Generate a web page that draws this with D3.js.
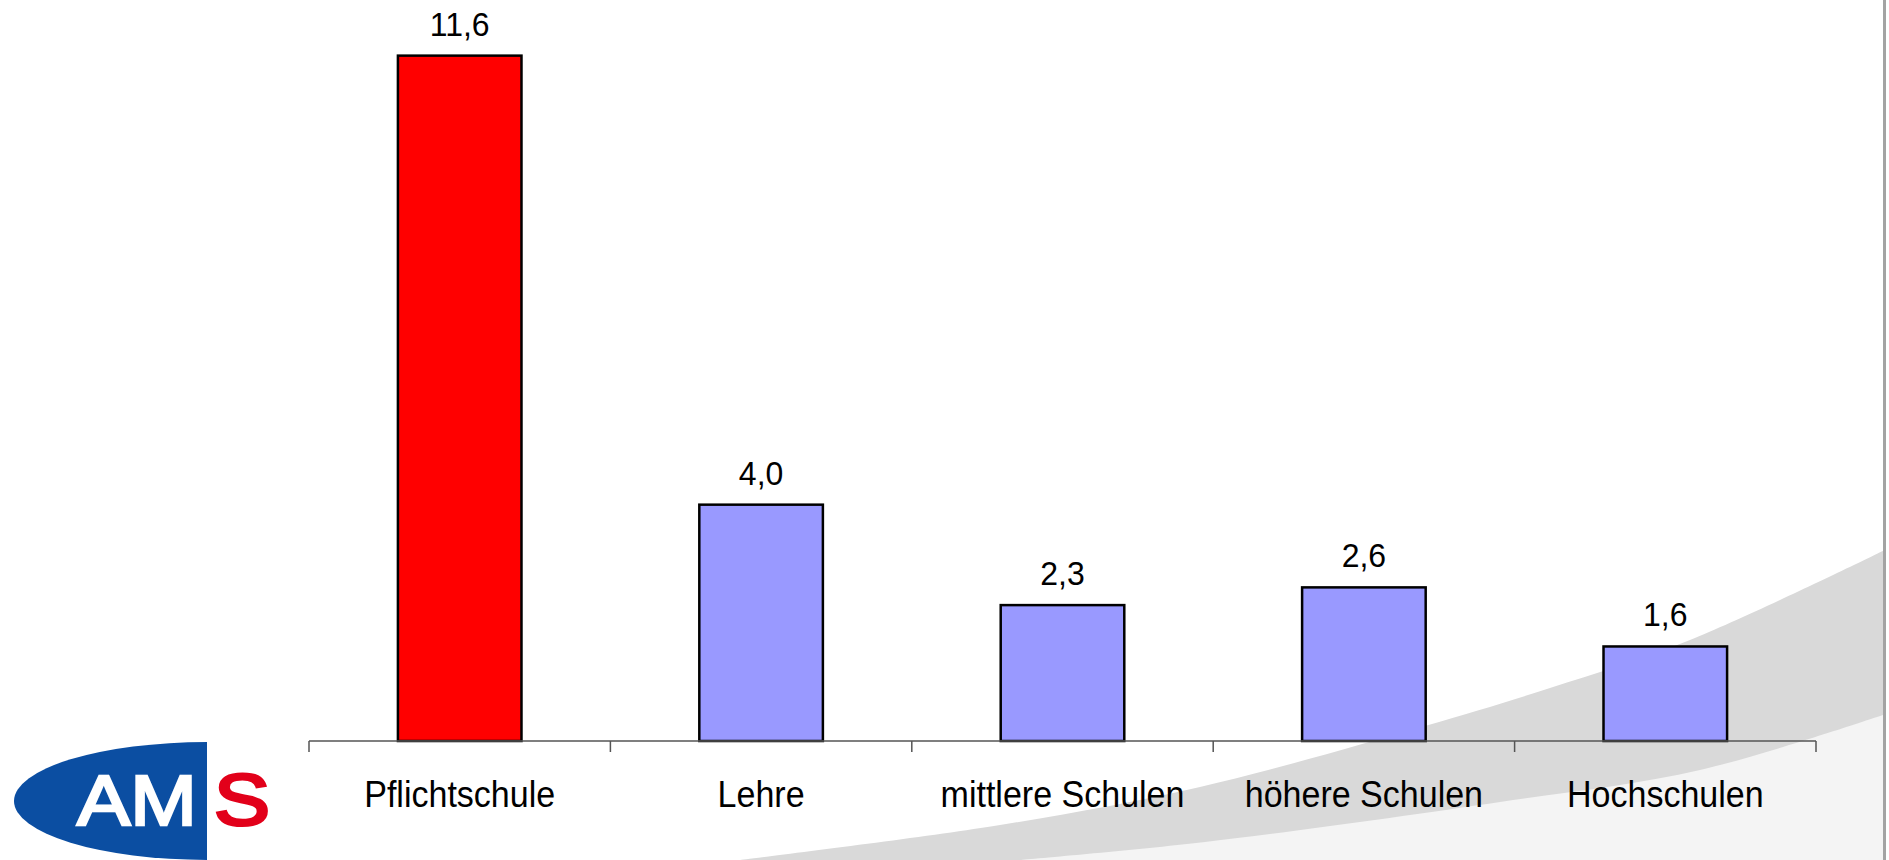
<!DOCTYPE html>
<html>
<head>
<meta charset="utf-8">
<script src="https://cdn.jsdelivr.net/npm/d3@7"></script>
<style>
  html, body { margin: 0; padding: 0; background: #ffffff; }
  svg { display: block; }
  text { font-family: "Liberation Sans", Arial, sans-serif; }
</style>
</head>
<body>
<svg id="chart" width="1889" height="860"></svg>
<script>
// ---- data ----
const categories = ["Pflichtschule", "Lehre", "mittlere Schulen", "höhere Schulen", "Hochschulen"];
const values = [11.6, 4.0, 2.3, 2.6, 1.6];
const valueLabels = ["11,6", "4,0", "2,3", "2,6", "1,6"];
const barColors = ["#ff0000", "#9999ff", "#9999ff", "#9999ff", "#9999ff"];

// ---- layout ----
const W = 1889, H = 860;
const svg = d3.select("#chart");

// background swoosh
const upperEdge = [[740, 860], [1000, 825], [1200, 787], [1425, 726], [1550, 688], [1690, 640], [1889, 548]];
const lowerEdge = [[1020, 860], [1205, 842], [1500, 802], [1700, 770], [1889, 713]];
const edge = d3.line().curve(d3.curveCatmullRom.alpha(0.5));
svg.append("path")
  .attr("d", edge(upperEdge) + "L1889,860Z")
  .attr("fill", "#d9d9d9");
svg.append("path")
  .attr("d", edge(lowerEdge) + "L1889,860Z")
  .attr("fill", "#f4f4f4");
// right border
svg.append("rect").attr("x", 1883).attr("y", 0).attr("width", 3).attr("height", H).attr("fill", "#a3a3a3");
svg.append("rect").attr("x", 1886).attr("y", 0).attr("width", 3).attr("height", H).attr("fill", "#ffffff");

// scales
const x = d3.scaleBand().domain(categories).range([309, 1816]).paddingInner(0.59).paddingOuter(0.295);
const xb = d3.scaleBand().domain(categories).range([309, 1816]).padding(0);
const y = d3.scaleLinear().domain([0, 12]).range([741, 32]);

// bars
svg.selectAll("rect.bar").data(values).join("rect")
  .attr("class", "bar")
  .attr("x", (d, i) => x(categories[i]))
  .attr("y", d => y(d))
  .attr("width", x.bandwidth())
  .attr("height", d => y(0) - y(d))
  .attr("fill", (d, i) => barColors[i])
  .attr("stroke", "#000")
  .attr("stroke-width", 2.5);

// value labels
svg.selectAll("text.val").data(values).join("text")
  .attr("class", "val")
  .attr("transform", (d, i) => `translate(${x(categories[i]) + x.bandwidth() / 2},${y(d) - 20}) scale(0.97,1)`)
  .attr("text-anchor", "middle")
  .attr("font-size", 33)
  .attr("fill", "#000")
  .text((d, i) => valueLabels[i]);

// axis line and ticks
const axisG = svg.append("g");
axisG.append("line")
  .attr("x1", xb.range()[0]).attr("x2", xb.range()[1])
  .attr("y1", y(0)).attr("y2", y(0))
  .attr("stroke", "#555").attr("stroke-width", 1.5);
const tickPos = categories.map(c => xb(c)).concat([xb.range()[1]]);
axisG.selectAll("line.tick").data(tickPos).join("line")
  .attr("class", "tick")
  .attr("x1", d => d).attr("x2", d => d)
  .attr("y1", y(0)).attr("y2", y(0) + 11)
  .attr("stroke", "#555").attr("stroke-width", 1.5);

// category labels
svg.selectAll("text.cat").data(categories).join("text")
  .attr("class", "cat")
  .attr("transform", d => `translate(${xb(d) + xb.bandwidth() / 2},807) scale(0.945,1)`)
  .attr("text-anchor", "middle")
  .attr("font-size", 36)
  .attr("fill", "#000")
  .text(d => d);

// AMS logo
const logo = svg.append("g");
logo.append("clipPath").attr("id", "half").append("rect").attr("x", 0).attr("y", 700).attr("width", 207).attr("height", 160);
logo.append("ellipse")
  .attr("cx", 207).attr("cy", 801).attr("rx", 193).attr("ry", 59)
  .attr("fill", "#0b4ea2").attr("clip-path", "url(#half)");
logo.append("text")
  .attr("x", 77).attr("y", 825)
  .attr("font-size", 70)
  .attr("fill", "#ffffff").attr("stroke", "#ffffff").attr("stroke-width", 2.5)
  .attr("textLength", 120).attr("lengthAdjust", "spacingAndGlyphs")
  .text("AM");
logo.append("text")
  .attr("x", 214).attr("y", 825)
  .attr("font-size", 72)
  .attr("fill", "#e2001a").attr("stroke", "#e2001a").attr("stroke-width", 3)
  .attr("textLength", 56).attr("lengthAdjust", "spacingAndGlyphs")
  .text("S");
</script>
</body>
</html>
